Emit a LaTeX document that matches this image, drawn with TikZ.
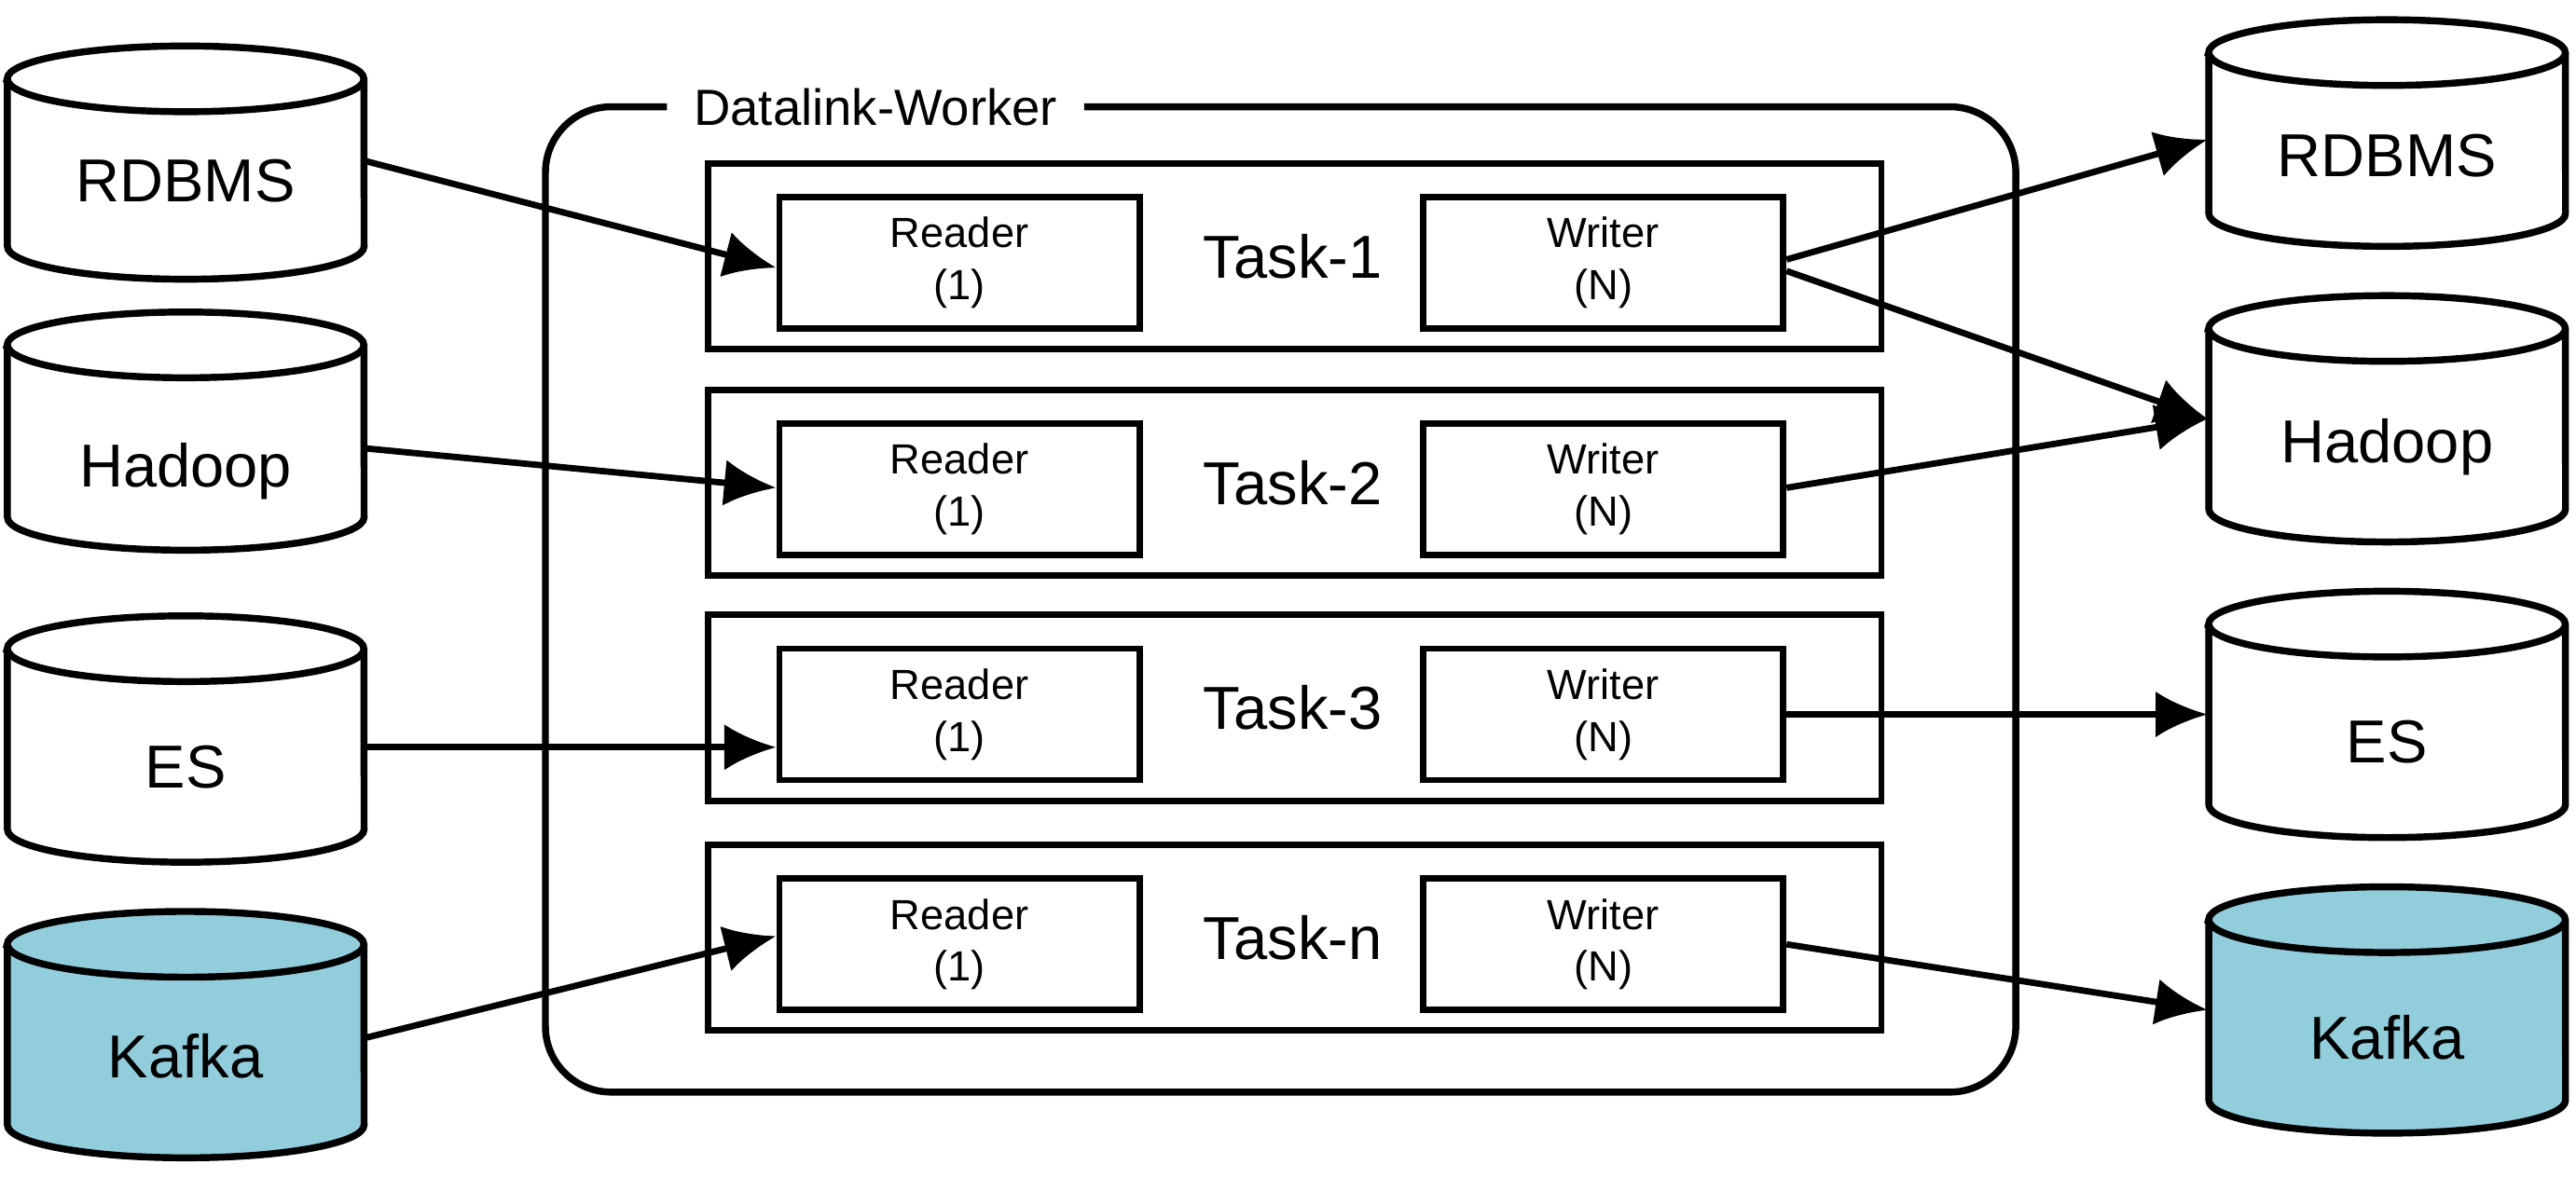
\documentclass[tikz,border=0pt]{standalone}
\usepackage{fontspec}
\setmainfont{Liberation Sans}
\usetikzlibrary{arrows.meta}
\tikzset{
  dbtext/.style={minimum width=2.17cm,inner sep=0pt,font=\fontsize{10.5}{12}\selectfont},
  taskbox/.style={draw,line width=1.1pt,minimum width=7.14cm,minimum height=1.13cm},
  rwbox/.style={draw,line width=1.1pt,minimum width=2.19cm,minimum height=0.8cm,
    align=center,font=\fontsize{7.3}{9}\selectfont},
  link/.style={-{Latex[length=9pt,width=8pt]},line width=1.1pt}
}
\definecolor{kcol}{HTML}{92CDDC}
% #1 name, #2 x, #3 top, #4 bottom, #5 text y, #6 fill, #7 label
\newcommand\dbcyl[7]{%
  \filldraw[fill=#6,line width=1.2pt] (#2-108.5,#3) -- (#2-108.5,#4)
    arc[start angle=180,end angle=360,x radius=1.085cm,y radius=0.2cm] -- (#2+108.5,#3)
    arc[start angle=0,end angle=180,x radius=1.085cm,y radius=0.2cm] -- cycle;
  \draw[line width=1.2pt] (#2-108.5,#3) arc[start angle=180,end angle=360,x radius=1.085cm,y radius=0.2cm];
  \node[dbtext] (#1) at (#2,#5) {#7};
}
\begin{document}
\begin{tikzpicture}[x=0.01cm,y=-0.01cm]
  \useasboundingbox (0,0) rectangle (1568,717);
  % worker frame
  \draw[line width=1.2pt,rounded corners=0.4cm] (406,65) -- (332,65) -- (332,665) -- (1227,665) -- (1227,65) -- (660,65);
  \node[font=\fontsize{8.8}{10}\selectfont,inner sep=1pt] (worker) at (533,65) {Datalink-Worker};
  % tasks
  \foreach \i/\y/\t in {1/156/Task-1,2/294/Task-2,3/431/Task-3,4/571/Task-n}{
    \node[taskbox] (task\i) at (788,\y) {};
    \node[font=\fontsize{10.5}{12}\selectfont] (tl\i) at (787,\y) {\t};
    \node[rwbox] (rd\i) at (584,\y+4) {Reader\\(1)};
    \node[rwbox] (wr\i) at (976,\y+4) {Writer\\(N)};
  }
  % sources
  \dbcyl{s1}{113}{48}{150}{110}{white}{RDBMS}
  \dbcyl{s2}{113}{210}{315}{287}{white}{Hadoop}
  \dbcyl{s3}{113}{395}{505}{467}{white}{ES}
  \dbcyl{s4}{113}{575}{685}{643}{kcol}{Kafka}
  % targets
  \dbcyl{t1}{1453}{32}{130}{95}{white}{RDBMS}
  \dbcyl{t2}{1453}{200}{310}{272}{white}{Hadoop}
  \dbcyl{t3}{1453}{380}{490}{452}{white}{ES}
  \dbcyl{t4}{1453}{560}{670}{632}{kcol}{Kafka}
  % links
  \draw[link] (s1.east |- 0,98) -- (rd1.west |- 0,163);
  \draw[link] (s2.east |- 0,273) -- (rd2.west |- 0,297);
  \draw[link] (s3.east |- 0,455) -- (rd3.west |- 0,455);
  \draw[link] (s4.east |- 0,632) -- (rd4.west |- 0,570);
  \draw[link] (wr1.east |- 0,158) -- (t1.west |- 0,85);
  \draw[link] (wr1.east |- 0,165) -- (t2.west |- 0,255);
  \draw[link] (wr2.east |- 0,297) -- (t2.west |- 0,255);
  \draw[link] (wr3.east |- 0,435) -- (t3.west |- 0,435);
  \draw[link] (wr4.east |- 0,575) -- (t4.west |- 0,615);
\end{tikzpicture}
\end{document}
